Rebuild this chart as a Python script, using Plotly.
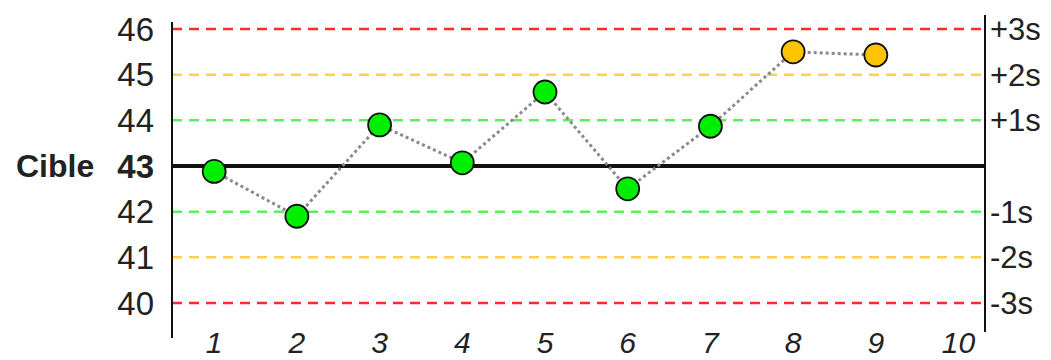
import plotly.graph_objects as go

x_vals = [1, 2, 3, 4, 5, 6, 7, 8, 9]
y_vals = [42.88, 41.9, 43.9, 43.07, 44.62, 42.5, 43.87, 45.5, 45.43]
point_colors = ["#00ee00"] * 7 + ["#ffc400"] * 2
x_ticks = [1, 2, 3, 4, 5, 6, 7, 8, 9, 10]
left_ticks = [40, 41, 42, 43, 44, 45, 46]
left_text = ["40", "41", "42", "<b>43</b>", "44", "45", "46"]
right_ticks = [46, 45, 44, 42, 41, 40]
right_text = ["+3s", "+2s", "+1s", "-1s", "-2s", "-3s"]
target = 43
limit_lines = [(46, "#ff2a2a"), (45, "#ffd24d"), (44, "#5cee5c"),
               (42, "#5cee5c"), (41, "#ffd24d"), (40, "#ff2a2a")]

yr = [39.584, 46.153]
xr = [0.49, 10.32]

fig = go.Figure()
fig.add_trace(go.Scatter(
    x=x_vals, y=y_vals, mode="lines+markers",
    line=dict(color="#8a8a8a", width=3, dash="dot"),
    marker=dict(size=23, color=point_colors, line=dict(color="#111", width=1.8)),
    showlegend=False, cliponaxis=False))
fig.add_trace(go.Scatter(x=[None], y=[None], yaxis="y2", showlegend=False))

shapes = []
for val, col in limit_lines:
    shapes.append(dict(type="line", xref="paper", yref="y", x0=0, x1=1, y0=val, y1=val,
                       line=dict(color=col, width=2.5, dash="10px,7px"), layer="below"))
shapes.append(dict(type="line", xref="paper", yref="y", x0=0, x1=1, y0=target, y1=target,
                   line=dict(color="#111", width=4), layer="below"))
shapes.append(dict(type="line", xref="paper", yref="paper", x0=0, x1=0, y0=-0.053, y1=1,
                   line=dict(color="#111", width=2)))
shapes.append(dict(type="line", xref="paper", yref="paper", x0=1, x1=1, y0=-0.033, y1=1.023,
                   line=dict(color="#111", width=2)))

fig.update_layout(
    width=1051, height=360,
    margin=dict(l=164, r=74, t=14, b=46, autoexpand=False),
    paper_bgcolor="white", plot_bgcolor="white",
    font=dict(family="Liberation Sans, Arial", color="#222"),
    xaxis=dict(range=xr, tickvals=x_ticks, ticktext=[f"<i>{t}</i>" for t in x_ticks],
               showgrid=False, zeroline=False, showline=False, ticks="",
               tickfont=dict(size=30), ticklabelstandoff=0, automargin=False),
    yaxis=dict(range=yr, tickvals=left_ticks, ticktext=left_text, showgrid=False,
               zeroline=False, showline=False, ticks="", tickfont=dict(size=33),
               ticklabelstandoff=17, automargin=False),
    yaxis2=dict(range=yr, overlaying="y", side="right", tickvals=right_ticks,
                ticktext=right_text, showgrid=False, zeroline=False, showline=False,
                ticks="", tickfont=dict(size=31), ticklabelstandoff=4, automargin=False),
    shapes=shapes,
    annotations=[dict(text="<b>Cible</b>", xref="paper", yref="y", x=0, y=target,
                      xanchor="right", yanchor="middle", xshift=-76, showarrow=False,
                      font=dict(size=32, color="#222"))],
)

fig.write_html("out.html")
